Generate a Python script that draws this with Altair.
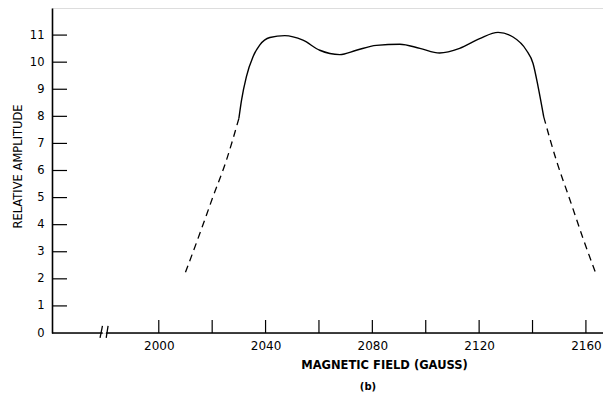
import altair as alt
import pandas as pd

# --- data ---
left_dash_x = [2010, 2015.4, 2020.3, 2025.4, 2030]
left_dash_y = [2.24, 3.68, 5.03, 6.4, 7.92]

solid_x = [2030, 2031, 2032.8, 2035.3, 2037.8, 2041.6, 2047.2, 2054, 2060.3, 2067.8,
           2074, 2081.5, 2090.3, 2097.8, 2105.2, 2112.7, 2120.2, 2127.1, 2132.7,
           2137.7, 2140.2, 2142.1, 2144.2]
solid_y = [7.92, 8.6, 9.46, 10.2, 10.63, 10.91, 10.98, 10.81, 10.44, 10.28,
           10.44, 10.62, 10.66, 10.51, 10.34, 10.51, 10.87, 11.1, 10.93,
           10.44, 9.95, 9.09, 7.98]

right_dash_x = [2144.2, 2149, 2153.9, 2158.9, 2163.7]
right_dash_y = [7.98, 6.35, 4.95, 3.5, 2.2]

x_tick_values = [2000, 2020, 2040, 2060, 2080, 2100, 2120, 2140, 2160]
x_label_values = [2000, 2040, 2080, 2120, 2160]
y_tick_values = [1, 2, 3, 4, 5, 6, 7, 8, 9, 10, 11]
y_label_values = [0, 1, 2, 3, 4, 5, 6, 7, 8, 9, 10, 11]

x_domain = [1960, 2166.4]
y_domain = [0, 12]

# broken x axis: segments and break marks
axis_seg_x = [1960, 1980.2]
axis_seg_x2 = [1979.0, 2166.4]
break_x = [1978.0, 1980.3]
break_x2 = [1978.9, 1981.0]
break_y = [-0.18, -0.18]
break_y2 = [0.26, 0.26]

W, H = 551, 325
FONT = "DejaVu Sans"

xs = alt.Scale(domain=x_domain, nice=False, zero=False)
ys = alt.Scale(domain=y_domain, nice=False, zero=True)

x_axis = alt.Axis(
    values=x_label_values, tickSize=0, domain=False, grid=False,
    labelPadding=7, labelFont=FONT, labelFontSize=12, labelColor="black",
    labelOverlap=False, format="d",
    title="MAGNETIC FIELD (GAUSS)", titleFont=FONT, titleFontSize=11.5,
    titleFontWeight="bold", titleColor="black",
    titleX=332, titleY=32, titleAlign="center", titleBaseline="middle",
    titleAnchor="start")
y_axis = alt.Axis(
    values=y_label_values, tickSize=0, domain=True, domainColor="black",
    domainWidth=1.6, grid=False, labelPadding=8, labelFont=FONT,
    labelFontSize=11.5, labelColor="black", labelOverlap=False, format="d",
    title="RELATIVE AMPLITUDE", titleFont=FONT, titleFontSize=11.5,
    titleFontWeight="normal", titleColor="black",
    titleX=-34, titleY=158, titleAngle=270, titleAlign="center",
    titleBaseline="middle", titleAnchor="start")


def X(f):
    return alt.X(f, scale=xs, axis=x_axis)


def Y(f):
    return alt.Y(f, scale=ys, axis=y_axis)


df_l = pd.DataFrame({"g": left_dash_x, "a": left_dash_y})
df_s = pd.DataFrame({"g": solid_x, "a": solid_y})
df_r = pd.DataFrame({"g": right_dash_x, "a": right_dash_y})

line_l = alt.Chart(df_l).mark_line(color="black", strokeWidth=1.3, strokeDash=[7, 5],
                                   interpolate="monotone").encode(x=X("g:Q"), y=Y("a:Q"))
line_s = alt.Chart(df_s).mark_line(color="black", strokeWidth=1.4,
                                   interpolate="monotone").encode(x=X("g:Q"), y=Y("a:Q"))
line_r = alt.Chart(df_r).mark_line(color="black", strokeWidth=1.3, strokeDash=[7, 5],
                                   interpolate="monotone").encode(x=X("g:Q"), y=Y("a:Q"))

xticks = alt.Chart(pd.DataFrame({"g": x_tick_values})).mark_rule(
    color="black", strokeWidth=1.2).encode(
    x=X("g:Q"), y=alt.value(H), y2=alt.value(H - 13))
yticks = alt.Chart(pd.DataFrame({"a": y_tick_values})).mark_rule(
    color="black", strokeWidth=1.2).encode(
    y=Y("a:Q"), x=alt.value(0), x2=alt.value(15))

axis_line = alt.Chart(pd.DataFrame({"g": axis_seg_x, "g2": axis_seg_x2})).mark_rule(
    color="black", strokeWidth=1.6).encode(
    x=X("g:Q"), x2="g2:Q", y=alt.value(H))

breaks = alt.Chart(pd.DataFrame({"g": break_x, "g2": break_x2,
                                 "a": break_y, "a2": break_y2})).mark_rule(
    color="black", strokeWidth=1.3).encode(
    x=X("g:Q"), x2="g2:Q", y=Y("a:Q"), y2="a2:Q")

caption = alt.Chart(pd.DataFrame({"c": ["(b)"]})).mark_text(
    font=FONT, fontSize=10, fontWeight="bold", color="black",
    align="center", baseline="middle").encode(
    text="c:N", x=alt.value(316), y=alt.value(379))

chart = alt.layer(axis_line, breaks, xticks, yticks,
                  line_l, line_s, line_r, caption).properties(
    width=W, height=H,
    autosize=alt.AutoSizeParams(type="none"),
    padding={"left": 44, "top": 0, "right": 0, "bottom": 60},
).configure_view(stroke=None).configure(background="white")

chart.save("out.html", embed_options={"renderer": "svg", "actions": False})
